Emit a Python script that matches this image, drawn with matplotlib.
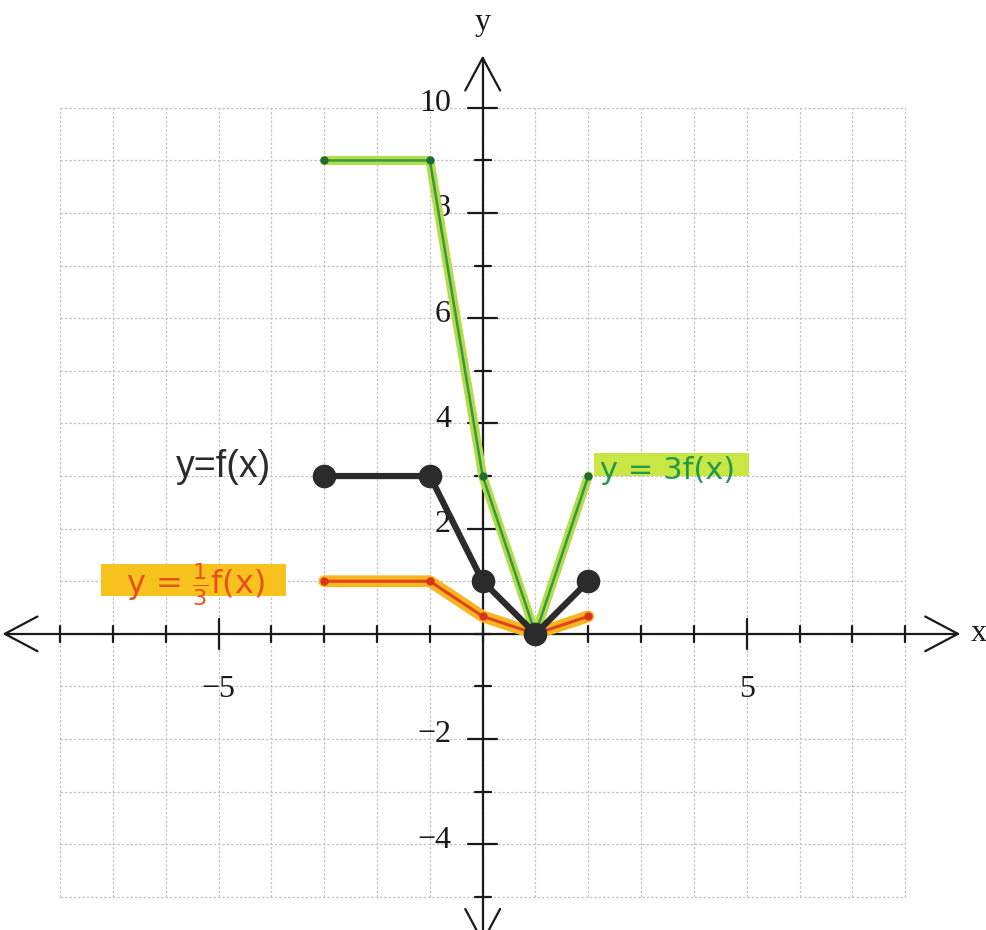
import matplotlib.pyplot as plt
from matplotlib.patches import Rectangle

# vertices of f and its two vertical stretches
x_pts = [-3, -1, 0, 1, 2]
f_vals = [3, 3, 1, 0, 1]
f3_vals = [9, 9, 3, 0, 3]
f13_vals = [1, 1, 1/3, 0, 1/3]

x_labels = {-5: '\u22125', 5: '5'}
y_labels = {10: '10', 8: '8', 6: '6', 4: '4', 2: '2', -2: '\u22122', -4: '\u22124'}

fig = plt.figure(figsize=(9.87, 9.30), dpi=100)
ax = fig.add_axes([0, 0, 1, 1])
ax.set_xlim(-9.14, 9.55)
ax.set_ylim(-5.63, 12.05)
ax.axis('off')

# grid paper
grid_kw = dict(color='#c4c4c4', lw=0.9, ls=(0, (2, 1.5)), zorder=0)
for gx in range(-8, 9):
    ax.plot([gx, gx], [-5, 10], **grid_kw)
for gy in range(-5, 11):
    ax.plot([-8, 8], [gy, gy], **grid_kw)

# axes with open arrowheads
ax_kw = dict(color='#1a1a1a', lw=1.6, zorder=2, solid_capstyle='round')
ax.plot([-9.05, 9.0], [0, 0], **ax_kw)
ax.plot([0, 0], [-5.85, 10.95], **ax_kw)
hl, hw = 0.62, 0.33
ax.plot([-9.05 + hl, -9.05, -9.05 + hl], [hw, 0, -hw], **ax_kw)
ax.plot([9.0 - hl, 9.0, 9.0 - hl], [hw, 0, -hw], **ax_kw)
ax.plot([-hw, 0, hw], [10.95 - hl, 10.95, 10.95 - hl], **ax_kw)
ax.plot([-hw, 0, hw], [-5.85 + hl, -5.85, -5.85 + hl], **ax_kw)

# tick marks
for tx in range(-8, 9):
    s = 0.28 if tx in x_labels else 0.15
    ax.plot([tx, tx], [-s, s], **ax_kw)
for ty in range(-5, 11):
    s = 0.28 if ty in y_labels else 0.15
    ax.plot([-s, s], [ty, ty], **ax_kw)

num_font = dict(family='Liberation Serif', fontsize=23, color='#1a1a1a')
for tx, lab in x_labels.items():
    ax.text(tx, -1.05, lab, ha='center', va='center', **num_font)
for ty, lab in y_labels.items():
    ax.text(-0.6, ty + 0.08, lab, ha='right', va='center', **num_font)

ax.text(9.4, 0, 'x', ha='center', va='center', **num_font)
ax.text(0, 11.62, 'y', ha='center', va='center', **num_font)

# y = 3f(x)
ax.plot(x_pts, f3_vals, color='#b2dc4c', lw=6.5, zorder=3, solid_capstyle='round')
ax.plot(x_pts, f3_vals, color='#3a9640', lw=1.8, zorder=4)
ax.plot(x_pts, f3_vals, 'o', color='#1f6b35', ms=5, zorder=4)

# y = (1/3)f(x)
ax.plot(x_pts, f13_vals, color='#f6b620', lw=8.5, zorder=3, solid_capstyle='round')
ax.plot(x_pts, f13_vals, color='#e2431c', lw=2.2, zorder=4)
ax.plot(x_pts, f13_vals, 'o', color='#d8341a', ms=5, zorder=4)

# y = f(x)
ax.plot(x_pts, f_vals, color='#2b2b2b', lw=4.5, zorder=5)
ax.plot(x_pts, f_vals, 'o', color='#2b2b2b', ms=16, zorder=6)

# labels
ax.text(-4.9, 3.18, 'y=f(x)', ha='center', va='center', family='Liberation Sans',
        fontsize=27, color='#2b2b2b')

ax.add_patch(Rectangle((2.1, 3.0), 2.95, 0.44, color='#c8e644', lw=0, zorder=1))
ax.text(3.5, 3.1, 'y = 3f(x)', ha='center', va='center', fontsize=22,
        color='#239a4a', zorder=2)

ax.add_patch(Rectangle((-7.23, 0.72), 3.5, 0.61, color='#f7c21d', lw=0, zorder=1))
ax.text(-5.45, 0.93, r'y = $\frac{1}{3}$f(x)', ha='center', va='center', fontsize=23,
        color='#e5521c', zorder=2)

fig.savefig('out.png', dpi=100)
